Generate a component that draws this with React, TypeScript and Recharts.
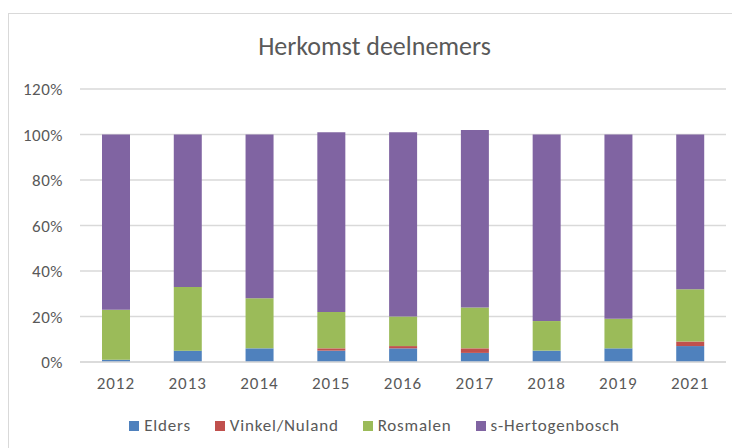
import React from 'react';
import { BarChart, Bar, XAxis, YAxis, CartesianGrid, Legend } from 'recharts';

const years = ['2012', '2013', '2014', '2015', '2016', '2017', '2018', '2019', '2021'];
const elders = [1, 5, 6, 5, 6, 4, 5, 6, 7];
const vinkelNuland = [0, 0, 0, 1, 1, 2, 0, 0, 2];
const rosmalen = [22, 28, 22, 16, 13, 18, 13, 13, 23];
const sHertogenbosch = [77, 67, 72, 79, 81, 78, 82, 81, 68];

const seriesNames = ['Elders', 'Vinkel/Nuland', 'Rosmalen', 's-Hertogenbosch'];
const COLORS = ['#4f81bd', '#c0504d', '#9bbb59', '#8064a2'];
const yTicks = [0, 20, 40, 60, 80, 100, 120];

const data = years.map((year, i) => ({
  year,
  elders: elders[i],
  vinkel: vinkelNuland[i],
  rosmalen: rosmalen[i],
  shb: sHertogenbosch[i],
}));

const keys = ['elders', 'vinkel', 'rosmalen', 'shb'];
const FONT = 'Calibri, Carlito, Lato, sans-serif';

function LegendContent() {
  return (
    <div style={{ display: 'flex', justifyContent: 'center', gap: 24, fontFamily: FONT, fontSize: 17, letterSpacing: 0.8, color: '#595959' }}>
      {seriesNames.map((name, i) => (
        <div key={name} style={{ display: 'flex', alignItems: 'center' }}>
          <div style={{ width: 10, height: 10, backgroundColor: COLORS[i], marginRight: 5 }} />
          <span>{name}</span>
        </div>
      ))}
    </div>
  );
}

export default function App() {
  return (
    <div style={{ marginTop: 5, position: 'relative', width: 731, height: 434, border: '1px solid #d9d9d9', borderRight: 'none', borderBottom: 'none', background: '#fff' }}>
      <div style={{ position: 'absolute', top: 16, left: 0, width: 731, textAlign: 'center', fontFamily: FONT, fontSize: 26, color: '#595959' }}>
        Herkomst deelnemers
      </div>
      <BarChart width={731} height={434} data={data} margin={{ top: 75, right: 14, left: 0, bottom: 56 }}>
        <CartesianGrid vertical={false} stroke="#d9d9d9" strokeWidth={1.5} />
        <XAxis
          dataKey="year"
          height={30}
          tickLine={false}
          axisLine={{ stroke: '#d9d9d9', strokeWidth: 1.5 }}
          tickMargin={9}
          tick={{ fill: '#595959', fontSize: 17, letterSpacing: 1, fontFamily: FONT }}
        />
        <YAxis
          width={71}
          domain={[0, 120]}
          ticks={yTicks}
          tickFormatter={(v) => `${v}%`}
          tickLine={false}
          axisLine={false}
          tickMargin={11}
          tick={{ fill: '#595959', fontSize: 17, letterSpacing: 0.5, fontFamily: FONT }}
        />
        <Legend
          layout="horizontal"
          verticalAlign="middle"
          align="center"
          content={<LegendContent />}
          wrapperStyle={{ top: 401, left: 0, width: 731 }}
        />
        {keys.map((k, i) => (
          <Bar key={k} dataKey={k} name={seriesNames[i]} stackId="a" fill={COLORS[i]} barSize={28} isAnimationActive={false} />
        ))}
      </BarChart>
    </div>
  );
}
